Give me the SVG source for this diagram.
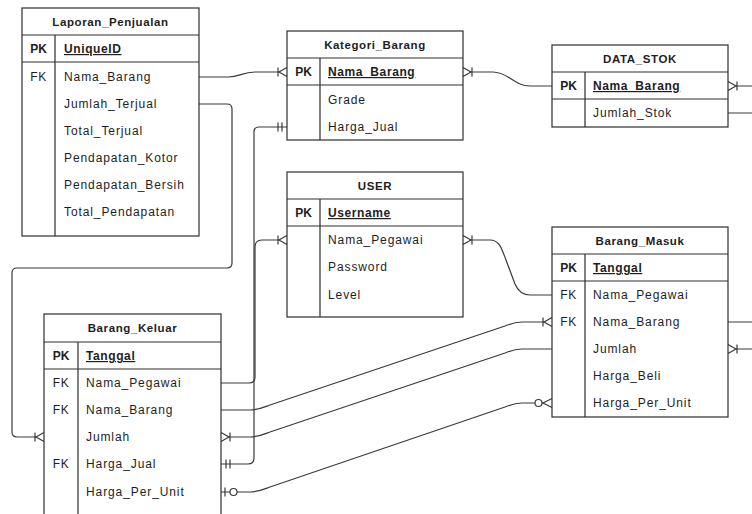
<svg xmlns="http://www.w3.org/2000/svg" width="752" height="514" viewBox="0 0 752 514">
<style>
.bg{fill:#fff}
.box{fill:#fff;stroke:#2e2e2e;stroke-width:1.2}
.ln{fill:none;stroke:#2e2e2e;stroke-width:1.2}
.c{fill:none;stroke:#3a3a3a;stroke-width:1.2}
.sym{fill:#fff;stroke:#3a3a3a;stroke-width:1.2}
text{font-family:"Liberation Sans",Arial,sans-serif;fill:#1e1e1e}
.t{font-size:12px;letter-spacing:0.9px}
.h{font-size:11.5px;font-weight:bold;text-anchor:middle;letter-spacing:0.6px}
.k{font-size:12px;text-anchor:middle;letter-spacing:0.6px}
.kb{font-size:12px;font-weight:bold;text-anchor:middle}
.pkn{font-size:12px;font-weight:bold;text-decoration:underline;letter-spacing:0.6px}
</style>
<defs>
<g id="oneMany" class="sym"><path d="M0,-4.5 L8,0 L0,4.5 M9,-4.5 V4.5"/></g>
<g id="oneOne" class="sym"><path d="M5,-4.5 V4.5 M9,-4.5 V4.5"/></g>
<g id="zeroMany" class="sym"><path d="M0,-4.5 L9,0 L0,4.5"/><circle cx="13.5" cy="0" r="3.5"/></g>
<g id="zeroOne" class="sym"><path d="M4,-4.5 V4.5"/><circle cx="12.5" cy="0" r="3.5"/></g>
</defs>
<rect class="bg" x="0" y="0" width="752" height="514"/>

<g id="connectors">
<path class="c" d="M199,77 L228,77 C240,77 242,72 255,72 L287,72"/>
<path class="c" d="M463,72 L493,72 C508,72 514,86 530,86 L552,86"/>
<path class="c" d="M199,104 L227,104 Q232,104 232,109 L232,263 Q232,268 227,268 L17,268 Q12,268 12,273 L12,432 Q12,437 17,437 L44,437"/>
<path class="c" d="M287,127 L259,127 Q254,127 254,132 L254,458 Q254,464 248,464 L221,464"/>
<path class="c" d="M287,240 L262,240 Q255,240 255,247 L255,377 Q255,383 249,383 L221,383"/>
<path class="c" d="M463,240 L490,240 C500,240 502,250 506,260 L515,284 C518,291 522,295 530,295 L552,295"/>
<path class="c" d="M221,410 L250,410 C258,410 262,408 270,405 L505,326 C512,323 515,322 522,322 L552,322"/>
<path class="c" d="M221,437 L250,437 C258,437 262,435 270,432 L505,353 C512,350 515,349 522,349 L552,349"/>
<path class="c" d="M221,492 L250,492 C258,492 262,490 270,487 L505,407 C512,404 515,403 522,403 L552,403"/>
<path class="c" d="M728,86 L752,86 M728,113 L752,113 M728,322 L752,322 M728,349 L752,349"/>
<use href="#oneMany" transform="translate(287,72) scale(-1,1)"/>
<use href="#oneMany" transform="translate(463,72)"/>
<use href="#oneMany" transform="translate(728,86)"/>
<use href="#oneOne" transform="translate(287,127) scale(-1,1)"/>
<use href="#oneOne" transform="translate(221,464)"/>
<use href="#oneMany" transform="translate(287,240) scale(-1,1)"/>
<use href="#oneMany" transform="translate(463,240)"/>
<use href="#oneMany" transform="translate(552,322) scale(-1,1)"/>
<use href="#oneMany" transform="translate(221,437)"/>
<use href="#oneMany" transform="translate(44,437) scale(-1,1)"/>
<use href="#oneMany" transform="translate(728,349)"/>
<use href="#zeroOne" transform="translate(221,492)"/>
<use href="#zeroMany" transform="translate(552,403) scale(-1,1)"/>
</g>

<g id="Laporan_Penjualan">
<rect class="box" x="22" y="8" width="177" height="228"/>
<path class="ln" d="M22,35 H199 M22,62 H199 M55,35 V236"/>
<text class="h" x="110.5" y="26">Laporan_Penjualan</text>
<text class="kb" x="38.5" y="53">PK</text>
<text class="pkn" x="64" y="53">UniqueID</text>
<text class="k" x="38.5" y="81">FK</text>
<text class="t" x="64" y="81">Nama_Barang</text>
<text class="t" x="64" y="108">Jumlah_Terjual</text>
<text class="t" x="64" y="135">Total_Terjual</text>
<text class="t" x="64" y="162">Pendapatan_Kotor</text>
<text class="t" x="64" y="189">Pendapatan_Bersih</text>
<text class="t" x="64" y="216">Total_Pendapatan</text>
</g>

<g id="Kategori_Barang">
<rect class="box" x="287" y="31" width="176" height="109"/>
<path class="ln" d="M287,58 H463 M287,85 H463 M320,58 V140"/>
<text class="h" x="375" y="49">Kategori_Barang</text>
<text class="kb" x="303.5" y="76">PK</text>
<text class="pkn" x="328" y="76">Nama_Barang</text>
<text class="t" x="328" y="104">Grade</text>
<text class="t" x="328" y="131">Harga_Jual</text>
</g>

<g id="DATA_STOK">
<rect class="box" x="552" y="45" width="176" height="82"/>
<path class="ln" d="M552,72 H728 M552,99 H728 M585,72 V127"/>
<text class="h" x="640" y="63">DATA_STOK</text>
<text class="kb" x="568.5" y="90">PK</text>
<text class="pkn" x="593" y="90">Nama_Barang</text>
<text class="t" x="593" y="117">Jumlah_Stok</text>
</g>

<g id="USER">
<rect class="box" x="287" y="172" width="176" height="145"/>
<path class="ln" d="M287,199 H463 M287,226 H463 M320,199 V317"/>
<text class="h" x="375" y="190">USER</text>
<text class="kb" x="303.5" y="217">PK</text>
<text class="pkn" x="328" y="217">Username</text>
<text class="t" x="328" y="244">Nama_Pegawai</text>
<text class="t" x="328" y="271">Password</text>
<text class="t" x="328" y="299">Level</text>
</g>

<g id="Barang_Masuk">
<rect class="box" x="552" y="227" width="176" height="190"/>
<path class="ln" d="M552,254 H728 M552,281 H728 M585,254 V417"/>
<text class="h" x="640" y="245">Barang_Masuk</text>
<text class="kb" x="568.5" y="272">PK</text>
<text class="pkn" x="593" y="272">Tanggal</text>
<text class="k" x="568.5" y="299">FK</text>
<text class="t" x="593" y="299">Nama_Pegawai</text>
<text class="k" x="568.5" y="326">FK</text>
<text class="t" x="593" y="326">Nama_Barang</text>
<text class="t" x="593" y="353">Jumlah</text>
<text class="t" x="593" y="380">Harga_Beli</text>
<text class="t" x="593" y="407">Harga_Per_Unit</text>
</g>

<g id="Barang_Keluar">
<rect class="box" x="44" y="314" width="177" height="210"/>
<path class="ln" d="M44,342 H221 M44,369 H221 M78,342 V524"/>
<text class="h" x="132.5" y="332">Barang_Keluar</text>
<text class="kb" x="61" y="360">PK</text>
<text class="pkn" x="86" y="360">Tanggal</text>
<text class="k" x="61" y="387">FK</text>
<text class="t" x="86" y="387">Nama_Pegawai</text>
<text class="k" x="61" y="414">FK</text>
<text class="t" x="86" y="414">Nama_Barang</text>
<text class="t" x="86" y="441">Jumlah</text>
<text class="k" x="61" y="468">FK</text>
<text class="t" x="86" y="468">Harga_Jual</text>
<text class="t" x="86" y="496">Harga_Per_Unit</text>
</g>
</svg>
